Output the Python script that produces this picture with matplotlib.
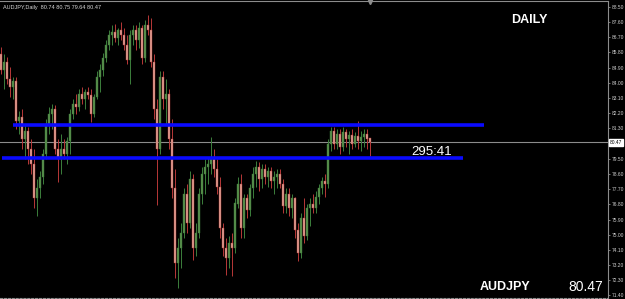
import numpy as np
import matplotlib
matplotlib.use("Agg")
import matplotlib.pyplot as plt

# ─── Dane (AUDJPY, D1) ───────────────────────────────────────────────────────

opens = [
    85.68, 84.79, 85.26, 84.21, 83.74, 84.09, 81.74, 81.97, 80.68, 81.15,
    80.09, 79.21, 77.15, 77.74, 78.44, 79.79, 81.56, 82.15, 82.44, 80.09,
    79.50, 80.09, 79.79, 80.56, 82.15, 82.74, 82.56, 83.32, 83.03, 83.44,
    83.27, 82.15, 83.15, 84.32, 84.79, 85.50, 86.26, 86.85, 87.03, 86.68,
    87.15, 86.85, 86.26, 85.38, 86.85, 87.15, 86.56, 87.27, 85.50, 87.44,
    87.15, 85.26, 82.44, 80.09, 84.32, 83.03, 83.32, 80.68, 77.74, 73.32,
    74.21, 75.09, 77.44, 75.68, 78.32, 74.21, 75.09, 77.44, 78.62, 79.03,
    79.21, 79.50, 78.91, 77.85, 75.38, 74.21, 73.62, 74.50, 74.21, 76.85,
    78.03, 75.38, 77.15, 76.44, 77.74, 78.62, 79.03, 78.32, 78.91, 78.44,
    78.79, 78.21, 78.44, 78.62, 78.03, 76.68, 77.44, 76.56, 77.15, 75.26,
    73.91, 75.97, 74.91, 76.56, 76.85, 76.56, 77.26, 77.74, 78.21, 78.03,
    80.38, 81.15, 80.38, 80.97, 80.21, 81.09, 80.68, 80.91, 80.38, 80.85,
    80.56, 80.79, 80.97, 80.74,
]
highs = [
    86.15, 85.68, 85.56, 84.91, 84.32, 84.32, 82.32, 82.44, 81.56, 81.38,
    80.68, 80.09, 78.32, 78.79, 80.09, 81.85, 82.56, 82.74, 82.68, 80.68,
    80.97, 80.68, 80.79, 82.44, 83.03, 83.32, 83.62, 83.74, 83.62, 83.74,
    83.62, 83.32, 84.68, 85.09, 85.79, 86.56, 87.15, 87.44, 87.50, 87.27,
    87.62, 87.27, 86.85, 87.15, 87.44, 87.44, 87.62, 87.44, 87.74, 88.03,
    87.85, 85.68, 83.03, 84.68, 84.68, 84.21, 83.62, 81.85, 78.91, 74.79,
    75.68, 77.74, 78.03, 78.79, 78.62, 75.68, 77.74, 79.03, 79.50, 79.62,
    80.79, 80.09, 79.50, 78.44, 75.68, 74.79, 74.91, 75.09, 77.15, 78.44,
    78.62, 77.44, 77.44, 78.03, 79.03, 79.38, 79.32, 79.21, 79.21, 79.03,
    79.03, 78.79, 78.91, 78.91, 78.32, 77.74, 77.74, 77.44, 77.26, 75.68,
    76.26, 77.15, 76.85, 77.15, 77.44, 77.62, 78.03, 78.44, 78.62, 80.68,
    81.38, 81.38, 81.26, 81.26, 81.38, 81.26, 81.15, 81.26, 81.09, 81.74,
    81.15, 81.26, 81.26, 80.75,
]
lows = [
    84.50, 83.62, 83.91, 83.15, 83.03, 81.26, 80.97, 80.09, 79.50, 79.21,
    78.62, 76.56, 76.09, 77.15, 78.03, 79.50, 80.97, 81.26, 79.79, 78.15,
    78.62, 79.50, 79.21, 79.79, 81.85, 82.15, 82.32, 82.74, 82.44, 83.03,
    81.68, 81.97, 83.03, 83.44, 84.38, 85.26, 85.97, 86.26, 86.44, 86.26,
    86.56, 85.97, 85.09, 83.91, 86.26, 85.97, 86.09, 85.09, 85.26, 86.85,
    84.91, 81.85, 76.74, 79.79, 82.44, 81.56, 80.09, 77.15, 72.44, 71.85,
    73.03, 74.79, 75.09, 75.38, 73.50, 73.74, 74.79, 76.85, 77.44, 78.03,
    78.62, 78.44, 77.44, 74.79, 73.74, 72.62, 73.03, 72.56, 73.91, 76.56,
    74.79, 74.79, 75.97, 76.09, 77.15, 77.85, 77.62, 77.74, 78.03, 77.85,
    77.74, 77.44, 77.74, 77.74, 76.26, 76.26, 76.09, 75.97, 74.79, 73.44,
    73.62, 74.50, 74.68, 75.50, 76.26, 76.26, 76.85, 77.44, 77.26, 77.74,
    79.97, 80.09, 80.09, 79.79, 79.97, 80.21, 79.79, 80.09, 80.21, 80.09,
    79.97, 80.21, 80.09, 79.64,
]
closes = [
    84.79, 85.26, 84.21, 83.74, 84.09, 81.74, 81.97, 80.68, 81.15, 80.09,
    79.21, 77.15, 77.74, 78.44, 79.79, 81.56, 82.15, 82.44, 80.09, 79.50,
    80.09, 79.79, 80.56, 82.15, 82.74, 82.56, 83.32, 83.03, 83.44, 83.27,
    82.15, 83.15, 84.32, 84.79, 85.50, 86.26, 86.85, 87.03, 86.68, 87.15,
    86.85, 86.26, 85.38, 86.85, 87.15, 86.56, 87.27, 85.50, 87.44, 87.15,
    85.26, 82.44, 80.09, 84.32, 83.03, 83.32, 80.68, 77.74, 73.32, 74.21,
    75.09, 77.44, 75.68, 78.32, 74.21, 75.09, 77.44, 78.62, 79.03, 79.21,
    79.50, 78.91, 77.85, 75.38, 74.21, 73.62, 74.50, 74.21, 76.85, 78.03,
    75.38, 77.15, 76.44, 77.74, 78.62, 79.03, 78.32, 78.91, 78.44, 78.79,
    78.21, 78.44, 78.62, 78.03, 76.68, 77.44, 76.56, 77.15, 75.26, 73.91,
    75.97, 74.91, 76.56, 76.85, 76.56, 77.26, 77.74, 78.21, 78.03, 80.38,
    81.15, 80.38, 80.97, 80.21, 81.09, 80.68, 80.91, 80.38, 80.85, 80.56,
    80.79, 80.97, 80.68, 80.47,
]

# linie wsparcia/oporu: poziom, początek, koniec (nr świecy)
level_prices = [81.50, 79.56]
level_start = [4, 0.3]
level_end = [161, 154]

y_ticks = [88.50, 87.60, 86.70, 85.80, 84.90, 84.00, 83.10, 82.20, 81.30,
           79.50, 78.60, 77.70, 76.80, 75.90, 75.00, 74.10, 73.20, 72.30, 71.40]

symbol = "AUDJPY"
timeframe = "Daily"
last_price = 80.47
countdown = "295:41"

BULL_WICK, BULL_BODY = "#3c7f3c", "#5a8f4c"
BEAR_WICK, BEAR_BODY = "#b83838", "#e0a496"
GRID = "#8c8c8c"

# ─── Wykres ──────────────────────────────────────────────────────────────────

plt.rcParams["font.family"] = ["Liberation Sans", "DejaVu Sans"]

fig = plt.figure(figsize=(6.25, 2.99), dpi=100, facecolor="black")
ax = fig.add_axes([0.0, 1 - 298 / 299, 608 / 625, 297 / 299], facecolor="black")

o = np.array(opens)
h = np.array(highs)
l = np.array(lows)
c = np.array(closes)
x = np.arange(len(c))
up = c >= o

ax.vlines(x[up], l[up], h[up], color=BULL_WICK, lw=0.7, zorder=2)
ax.vlines(x[~up], l[~up], h[~up], color=BEAR_WICK, lw=0.7, zorder=2)
body_bottom = np.minimum(o, c)
body_height = np.maximum(np.abs(c - o), 0.03)
ax.bar(x[up], body_height[up], bottom=body_bottom[up], width=0.45,
       color=BULL_BODY, edgecolor=BULL_WICK, linewidth=0.3, zorder=3)
ax.bar(x[~up], body_height[~up], bottom=body_bottom[~up], width=0.45,
       color=BEAR_BODY, edgecolor=BEAR_WICK, linewidth=0.3, zorder=3)

# bieżąca cena
ax.axhline(last_price, color=GRID, lw=0.8, zorder=1)

# poziomy
for lv, x0, x1 in zip(level_prices, level_start, level_end):
    ax.hlines(lv, x0, x1, color="#0a0aff", lw=2.6, zorder=4)

ax.set_xlim(-0.33, 202.33)
ax.set_ylim(71.25, 88.85)

# oś cen po prawej
ax.yaxis.tick_right()
ax.set_yticks(y_ticks)
ax.set_yticklabels([f"{v:.2f}" for v in y_ticks])
ax.tick_params(axis="y", colors=GRID, labelcolor="#d0d0d0", labelsize=3.5,
               length=1.5, width=0.6, pad=1)
ax.set_xticks([])

ax.spines["left"].set_visible(False)
ax.spines["top"].set_color(GRID)
ax.spines["right"].set_color(GRID)
ax.spines["bottom"].set_color(GRID)
ax.spines["bottom"].set_linestyle((0, (2, 1.5)))
ax.spines["bottom"].set_linewidth(0.8)

# pole z ceną
ax.text(1.003, last_price, f"{last_price:.2f}", transform=ax.get_yaxis_transform(),
        ha="left", va="center", fontsize=3.5, color="black", clip_on=False,
        bbox=dict(boxstyle="square,pad=0.15", fc="white", ec="white"))

# nagłówek
ax.text(0.005, 0.985,
        f"{symbol},{timeframe}  {opens[-1]:.2f} {highs[-1]:.2f} {lows[-1]:.2f} {closes[-1]:.2f}",
        transform=ax.transAxes, ha="left", va="top", fontsize=4, color="#d8d8d8")

ax.text(529 / 608, 1 - 19 / 297, "DAILY", transform=ax.transAxes,
        ha="center", va="center", fontsize=9, fontweight="bold", color="white")
ax.text(505 / 608, 1 - 286 / 297, symbol, transform=ax.transAxes,
        ha="center", va="center", fontsize=9, fontweight="bold", color="white")
ax.text(603 / 608, 1 - 286 / 297, f"{last_price:.2f}", transform=ax.transAxes,
        ha="right", va="center", fontsize=10, color="white")
ax.text(432 / 608, 1 - 151 / 297, countdown, transform=ax.transAxes,
        ha="center", va="center", fontsize=9.5, color="white")

# znacznik przesunięcia wykresu
ax.plot([x[-1]], [88.80], marker="v", ms=3, color=GRID, clip_on=False)

fig.savefig("out.png", dpi=100, facecolor="black")
